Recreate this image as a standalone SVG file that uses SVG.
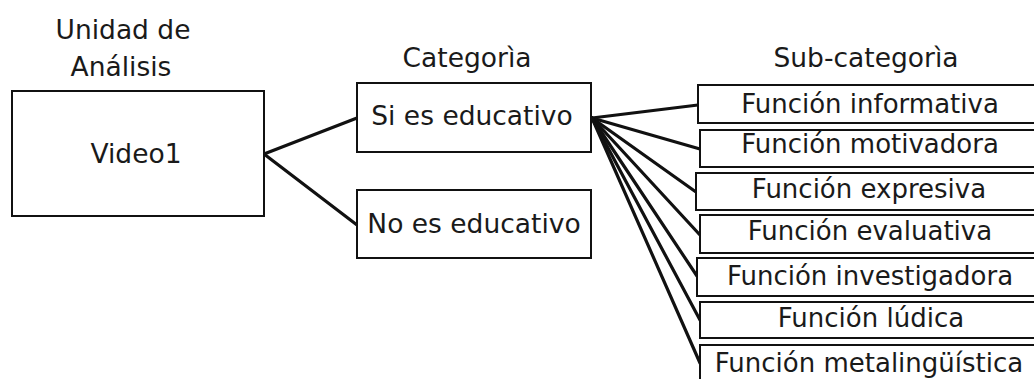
<svg xmlns="http://www.w3.org/2000/svg" width="1034" height="379" viewBox="0 0 1034 379">
<style>
text{font-family:"DejaVu Sans",Verdana,sans-serif;fill:#1a1a1a;text-anchor:middle}
.h{font-size:26.5px}
.n{font-size:26.5px}
.s{font-size:26px}
rect{fill:#fff;stroke:#111;stroke-width:2}
.c line{stroke:#111;stroke-width:3.2;stroke-linecap:round}
</style>
<rect x="0" y="0" width="1034" height="379" style="stroke:none;fill:#fff"/>
<g id="headers">
<text class="h" x="123" y="39">Unidad de</text>
<text class="h" x="121" y="76">Análisis</text>
<text class="h" x="467" y="67">Categorìa</text>
<text class="h" x="866" y="67">Sub-categorìa</text>
</g>
<g class="c" id="connectors">
<line x1="264" y1="154" x2="357" y2="118"/>
<line x1="264" y1="154" x2="357" y2="225"/>
<line x1="592" y1="118" x2="698" y2="105"/>
<line x1="592" y1="118" x2="700" y2="149"/>
<line x1="592" y1="118" x2="696" y2="192"/>
<line x1="592" y1="118" x2="700" y2="235"/>
<line x1="592" y1="118" x2="697" y2="276"/>
<line x1="592" y1="118" x2="700" y2="320"/>
<line x1="592" y1="118" x2="700" y2="363"/>
</g>
<g id="video1"><rect x="12" y="91" width="252" height="125"/><text class="n" x="136" y="163">Video1</text></g>
<g id="si"><rect x="357" y="83" width="234" height="69"/><text class="n" x="472" y="125">Si es educativo</text></g>
<g id="no"><rect x="357" y="190" width="234" height="68"/><text class="n" x="474" y="233">No es educativo</text></g>
<g id="sub1"><rect x="698" y="85" width="345" height="38"/><text class="s" x="870" y="113">Función informativa</text></g>
<g id="sub2"><rect x="700" y="130" width="345" height="37"/><text class="s" x="870" y="153">Función motivadora</text></g>
<g id="sub3"><rect x="696" y="173" width="345" height="37"/><text class="s" x="869" y="198">Función expresiva</text></g>
<g id="sub4"><rect x="700" y="215" width="345" height="38"/><text class="s" x="870" y="240">Función evaluativa</text></g>
<g id="sub5"><rect x="697" y="258" width="345" height="38"/><text class="s" x="870" y="285">Función investigadora</text></g>
<g id="sub6"><rect x="700" y="302" width="345" height="36"/><text class="s" x="871" y="327">Función lúdica</text></g>
<g id="sub7"><rect x="700" y="345" width="345" height="40"/><text class="s" x="869" y="372">Función metalingüística</text></g>
</svg>
